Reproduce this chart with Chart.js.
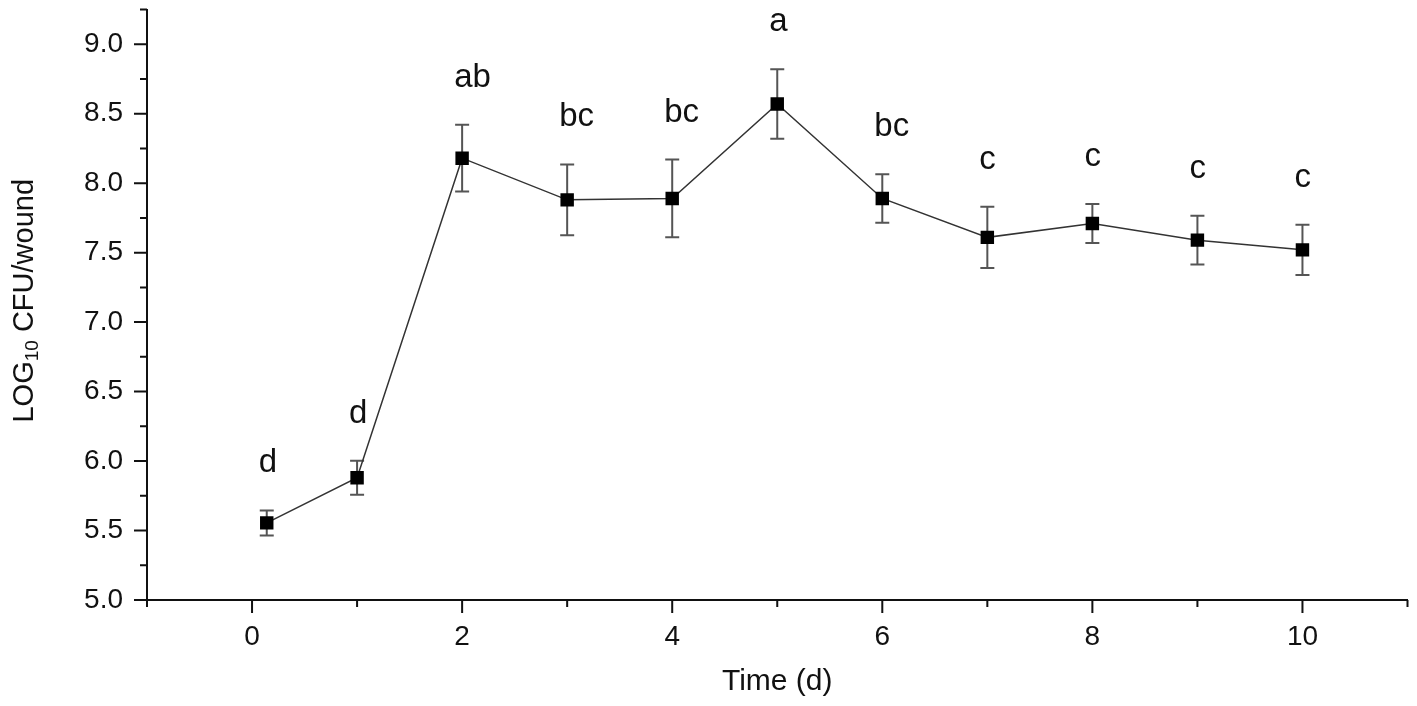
<!DOCTYPE html>
<html>
<head>
<meta charset="utf-8">
<script src="https://cdn.jsdelivr.net/npm/chart.js@4.4.1/dist/chart.umd.min.js"></script>
<style>
  html, body { margin: 0; padding: 0; background: #fff; }
  canvas { display: block; }
</style>
</head>
<body>
<canvas id="cfuChart" width="1417" height="706"></canvas>
<script>
// sampling time (d), mean log10 CFU, SD, significance letters
const days = [0.14, 1, 2, 3, 4, 5, 6, 7, 8, 9, 10];
const logCfu = [5.555, 5.88, 8.18, 7.88, 7.89, 8.57, 7.89, 7.61, 7.71, 7.59, 7.52];
const sd = [0.09, 0.123, 0.24, 0.255, 0.28, 0.25, 0.175, 0.22, 0.14, 0.175, 0.18];
const letters = ['d', 'd', 'ab', 'bc', 'bc', 'a', 'bc', 'c', 'c', 'c', 'c'];

const xTicks = [0, 2, 4, 6, 8, 10];
const yTicks = [5.0, 5.5, 6.0, 6.5, 7.0, 7.5, 8.0, 8.5, 9.0];

const FONT = '"Liberation Sans", Arial, sans-serif';
const INK = '#111';

const points = days.map((d, i) => ({ x: d, y: logCfu[i] }));

const isMajor = (list, v) => list.some(t => Math.abs(t - v) < 1e-6);

const noPad = s => { s.paddingTop = 0; s.paddingBottom = 0; s.paddingLeft = 0; s.paddingRight = 0; };

// error bars under the markers, letters above them
const errorBars = {
    id: 'errorBars',
    beforeDatasetsDraw(chart) {
        const { ctx, scales: { x, y } } = chart;
        ctx.save();
        ctx.strokeStyle = '#555';
        ctx.lineWidth = 2;
        days.forEach((d, i) => {
            const px = x.getPixelForValue(d);
            const top = y.getPixelForValue(logCfu[i] + sd[i]);
            const bot = y.getPixelForValue(logCfu[i] - sd[i]);
            ctx.beginPath();
            ctx.moveTo(px, top); ctx.lineTo(px, bot);
            ctx.moveTo(px - 7, top); ctx.lineTo(px + 7, top);
            ctx.moveTo(px - 7, bot); ctx.lineTo(px + 7, bot);
            ctx.stroke();
        });
        ctx.restore();
    },
    afterDatasetsDraw(chart) {
        const { ctx, scales: { x, y } } = chart;
        ctx.save();
        ctx.fillStyle = INK;
        ctx.font = '33px ' + FONT;
        ctx.textAlign = 'left';
        ctx.textBaseline = 'alphabetic';
        days.forEach((d, i) => {
            const px = x.getPixelForValue(d);
            const top = y.getPixelForValue(logCfu[i] + sd[i]);
            ctx.fillText(letters[i], px - 8, top - 38);
        });
        ctx.restore();
    }
};

// outward ticks (long for labelled values) and the y title with a real subscript
const axisExtras = {
    id: 'axisExtras',
    afterDraw(chart) {
        const { ctx, chartArea, scales: { x, y } } = chart;
        ctx.save();
        ctx.strokeStyle = INK;
        ctx.lineWidth = 2;
        ctx.beginPath();
        for (let v = x.min; v <= x.max + 1e-6; v += 1) {
            const px = x.getPixelForValue(v);
            const len = isMajor(xTicks, v) ? 13 : 7;
            ctx.moveTo(px, chartArea.bottom); ctx.lineTo(px, chartArea.bottom + len);
        }
        for (let v = y.min; v <= y.max + 1e-6; v += 0.25) {
            const py = y.getPixelForValue(v);
            const len = isMajor(yTicks, v) ? 13 : 7;
            ctx.moveTo(chartArea.left, py); ctx.lineTo(chartArea.left - len, py);
        }
        ctx.stroke();

        const parts = [
            { text: 'LOG', size: 29, drop: 0 },
            { text: '10', size: 19, drop: 5 },
            { text: ' CFU/wound', size: 29, drop: 0 }
        ];
        let total = 0;
        parts.forEach(p => { ctx.font = p.size + 'px ' + FONT; p.w = ctx.measureText(p.text).width; total += p.w; });
        ctx.translate(33, (chartArea.top + chartArea.bottom) / 2 - 4);
        ctx.rotate(-Math.PI / 2);
        ctx.fillStyle = INK;
        ctx.textAlign = 'left';
        ctx.textBaseline = 'alphabetic';
        let cx = -total / 2;
        parts.forEach(p => {
            ctx.font = p.size + 'px ' + FONT;
            ctx.fillText(p.text, cx, p.drop);
            cx += p.w;
        });
        ctx.restore();
    }
};

new Chart(document.getElementById('cfuChart'), {
    type: 'line',
    data: {
        datasets: [{
            data: points,
            borderColor: '#333',
            borderWidth: 1.5,
            pointStyle: 'rect',
            pointRadius: 9.5,
            pointBackgroundColor: '#000',
            pointBorderWidth: 0,
            tension: 0
        }]
    },
    options: {
        responsive: false,
        animation: false,
        devicePixelRatio: 1,
        layout: { padding: { top: 8, right: 9, left: 0, bottom: 0 } },
        plugins: {
            legend: { display: false },
            tooltip: { enabled: false }
        },
        scales: {
            x: {
                type: 'linear',
                min: -1,
                max: 11,
                afterFit: s => { s.height = 106; noPad(s); },
                grid: { display: false, drawTicks: false },
                border: { display: true, color: INK, width: 2 },
                ticks: {
                    stepSize: 1,
                    padding: 20,
                    color: INK,
                    font: { family: FONT, size: 28 },
                    callback: v => isMajor(xTicks, v) ? String(v) : ''
                },
                title: {
                    display: true,
                    text: 'Time (d)',
                    color: INK,
                    font: { family: FONT, size: 30 },
                    padding: { top: 0, bottom: 6 }
                }
            },
            y: {
                min: 5,
                max: 9.25,
                afterFit: s => { s.width = 147; noPad(s); },
                grid: { display: false, drawTicks: false },
                border: { display: true, color: INK, width: 2 },
                ticks: {
                    stepSize: 0.25,
                    padding: 24,
                    color: INK,
                    font: { family: FONT, size: 28 },
                    callback: v => isMajor(yTicks, v) ? v.toFixed(1) : ''
                },
                title: { display: false }
            }
        }
    },
    plugins: [errorBars, axisExtras]
});
</script>
</body>
</html>
